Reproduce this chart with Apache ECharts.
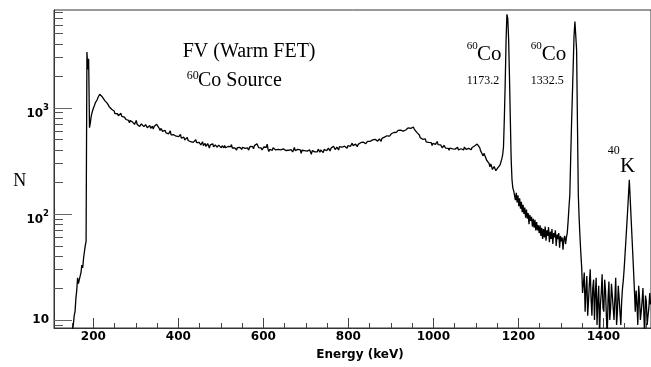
<!DOCTYPE html>
<html><head><meta charset="utf-8">
<script src="https://cdn.jsdelivr.net/npm/echarts@6/dist/echarts.min.js"></script>
<style>html,body{margin:0;padding:0;background:#fff}#c{width:651px;height:367px}</style>
</head><body><div id="c"></div>
<script>
// Histogram: bin centres start at 149 keV, 2 keV wide
const binStart = 149;
const binWidth = 2;
const counts = [
  // 149 - 247 keV
  7, 8, 9, 11, 12, 16, 19, 25, 22, 24, 24, 28, 33, 31, 38, 44, 50, 55, 3350, 2300, 2900, 650, 720, 830, 900,
  960, 1010, 1060, 1120, 1150, 1190, 1250, 1290, 1340, 1330, 1290, 1270, 1220, 1235, 1170, 1150, 1130, 1100, 1060, 1030, 1045, 1010, 970, 960, 945,
  // 249 - 347
  932, 880, 867, 905, 879, 840, 826, 870, 887, 830, 813, 840, 815, 790, 776, 805, 801, 760, 724, 760, 780, 735, 730, 745, 698,
  715, 760, 700, 693, 720, 667, 680, 704, 675, 712, 665, 641, 695, 677, 650, 652, 675, 680, 640, 648, 672, 630, 665, 680, 690,
  // 349 - 447
  700, 720, 686, 640, 611, 640, 627, 600, 575, 590, 613, 580, 594, 595, 568, 560, 606, 555, 542, 575, 558, 545, 569, 540, 530,
  555, 535, 520, 560, 518, 515, 535, 529, 498, 481, 515, 526, 492, 505, 485, 479, 500, 498, 472, 463, 488, 500, 470, 465, 478,
  // 449 - 547
  473, 455, 446, 462, 479, 440, 448, 462, 432, 445, 460, 440, 418, 448, 451, 430, 458, 428, 429, 448, 437, 425, 414, 445, 460,
  428, 419, 440, 434, 420, 441, 420, 409, 436, 432, 425, 414, 430, 450, 418, 408, 428, 420, 410, 399, 422, 432, 410, 423, 430,
  // 549 - 647
  405, 425, 435, 408, 415, 412, 428, 420, 399, 410, 434, 418, 424, 430, 411, 440, 458, 430, 458, 440, 421, 410, 426, 418, 400,
  415, 427, 420, 410, 425, 454, 410, 387, 405, 419, 412, 398, 420, 426, 405, 401, 400, 388, 405, 419, 410, 402, 398, 413, 410,
  // 649 - 747
  421, 402, 396, 410, 383, 398, 413, 392, 404, 410, 384, 400, 423, 395, 387, 410, 406, 390, 394, 402, 373, 398, 412, 385, 395,
  402, 406, 390, 377, 398, 401, 385, 365, 395, 412, 380, 384, 398, 396, 385, 408, 395, 382, 400, 404, 390, 378, 405, 412, 395,
  // 749 - 847
  394, 408, 417, 400, 392, 415, 415, 405, 434, 418, 404, 420, 427, 412, 400, 430, 436, 418, 425, 430, 419, 435, 448, 428, 416,
  440, 444, 430, 434, 448, 464, 440, 433, 450, 455, 445, 430, 452, 470, 455, 469, 468, 456, 475, 488, 466, 459, 475, 482, 472,
  // 849 - 947
  495, 482, 466, 490, 499, 478, 487, 505, 516, 500, 485, 500, 509, 492, 482, 515, 526, 508, 530, 540, 514, 545, 562, 548, 541,
  560, 569, 562, 550, 585, 600, 582, 586, 605, 612, 602, 588, 615, 634, 615, 603, 622, 626, 618, 599, 625, 647, 630, 626, 640,
  // 949 - 1047
  622, 645, 659, 630, 636, 615, 587, 600, 587, 555, 523, 540, 530, 505, 488, 500, 509, 478, 462, 480, 472, 462, 487, 470, 441,
  462, 469, 455, 452, 465, 481, 450, 438, 458, 448, 430, 419, 428, 443, 425, 416, 418, 428, 415, 397, 418, 433, 405, 410, 420,
  // 1049 - 1147
  424, 408, 402, 415, 425, 400, 392, 405, 411, 418, 395, 400, 427, 410, 405, 418, 404, 415, 427, 410, 402, 422, 434, 425, 436,
  445, 429, 455, 473, 445, 421, 395, 412, 380, 352, 372, 364, 340, 322, 310, 329, 300, 278, 295, 281, 262, 252, 280, 273, 255,
  // 1149 - 1247
  262, 270, 278, 265, 290, 300, 330, 360, 430, 800, 1700, 4200, 7600, 7000, 4500, 2000, 800, 330, 210, 175,
  165, 172, 135, 158, 128, 150, 118, 140, 112, 130, 104, 122, 100, 115, 92, 110, 90, 102, 80, 98, 86, 94, 76, 90, 74, 88, 70, 84, 70, 78,
  // 1249 - 1347
  66, 78, 62, 74, 58, 72, 60, 76, 56, 70, 62, 75, 54, 68, 58, 72, 52, 66, 60, 70, 50, 64, 58, 66, 48, 62, 55, 60, 46, 58, 62, 52, 60, 66,
  85, 115, 150, 330, 690, 1300, 2500, 4800, 6500, 6400, 3500, 700, 150, 90, 60, 42,
  // 1349 - 1447
  31, 18, 22, 28, 12, 19, 26, 11, 15, 22, 30, 16, 11, 20, 24, 10, 18, 25, 9, 15, 21, 7, 14, 18, 27,
  13, 12, 24, 19, 11, 7, 16, 23, 10, 13, 22, 17, 13, 10, 16, 25, 9, 12, 21, 16, 12, 9, 15, 20, 24,
  // 1449 - 1511
  31, 42, 57, 78, 107, 150, 210, 140, 95, 64, 43, 29, 19, 12, 19, 14, 9, 21, 16, 10, 12, 15, 20, 12, 7,
  17, 15, 9, 11, 13, 18, 14
];
const xMajorTicks = [200, 400, 600, 800, 1000, 1200, 1400];
const xMinorTicks = [150, 200, 250, 300, 350, 400, 450, 500, 550, 600, 650, 700, 750, 800, 850, 900, 950, 1000, 1050, 1100, 1150, 1200, 1250, 1300, 1350, 1400, 1450, 1500];
const yMajorTicks = [10, 100, 1000];
const yMinorTicks = [9, 20, 30, 40, 50, 60, 70, 80, 90, 200, 300, 400, 500, 600, 700, 800, 900, 2000, 3000, 4000, 5000, 6000, 7000, 8000];
const xRange = [107.5, 1512];
const yRange = [8.41, 8350];

const data = counts.map((c, i) => [binStart + i * binWidth, c]);

const SERIF = '"Liberation Serif", "Times New Roman", serif';
const SANS = '"DejaVu Sans", sans-serif';
function t(text, x, y, size, opts) {
  opts = opts || {};
  return {
    type: 'text', x: x, y: y, silent: true,
    style: {
      text: text, fill: '#000',
      font: (opts.bold ? 'bold ' : '') + size + 'px ' + (opts.family || SERIF),
      align: opts.align || 'left', verticalAlign: 'middle'
    }
  };
}

const chart = echarts.init(document.getElementById('c'), null, {renderer: 'canvas'});
chart.setOption({
  animation: false,
  backgroundColor: '#fff',
  grid: {left: 54, right: 0, top: 10, bottom: 39, show: true, borderColor: '#333', borderWidth: 1},
  xAxis: [{
    type: 'value', min: xRange[0], max: xRange[1],
    axisLine: {show: true, lineStyle: {color: '#333', width: 1}},
    splitLine: {show: false},
    axisTick: {show: true, inside: true, length: 10, customValues: xMajorTicks, lineStyle: {color: '#444'}},
    axisLabel: {customValues: xMajorTicks, margin: 3, color: '#000', fontFamily: SANS, fontWeight: 'bold', fontSize: 12,
      formatter: function (v) { return String(v); }}
  }, {
    type: 'value', min: xRange[0], max: xRange[1], position: 'bottom',
    axisLine: {show: false}, splitLine: {show: false},
    axisTick: {show: true, inside: true, length: 5, customValues: xMinorTicks, lineStyle: {color: '#444'}},
    axisLabel: {show: false}
  }],
  yAxis: [{
    type: 'log', logBase: 10, min: yRange[0], max: yRange[1],
    axisLine: {show: true, lineStyle: {color: '#333', width: 1}},
    splitLine: {show: false},
    axisTick: {show: true, inside: true, length: 18, customValues: yMajorTicks, lineStyle: {color: '#666'}},
    axisLabel: {
      customValues: yMajorTicks, margin: 5,
      formatter: function (v) {
        const e = Math.round(Math.log10(v));
        return e === 1 ? '{a|10}' : '{b|10}{s|' + e + '}';
      },
      rich: {
        a: {fontFamily: SANS, fontWeight: 'bold', fontSize: 12, color: '#000'},
        b: {fontFamily: SANS, fontWeight: 'bold', fontSize: 12, color: '#000', padding: [12, 0, 0, 0]},
        s: {fontFamily: SANS, fontWeight: 'bold', fontSize: 8.5, color: '#000'}
      }
    }
  }, {
    type: 'log', logBase: 10, min: yRange[0], max: yRange[1], position: 'left',
    axisLine: {show: false}, splitLine: {show: false},
    axisTick: {show: true, inside: true, length: 9, customValues: yMinorTicks, lineStyle: {color: '#555'}},
    axisLabel: {show: false}
  }],
  series: [{
    type: 'line', xAxisIndex: 0, yAxisIndex: 0, data: data,
    showSymbol: false, symbol: 'none', clip: true,
    lineStyle: {color: '#000', width: 1.3}
  }],
  graphic: [
    t('FV (Warm FET)', 182.7, 51.9, 20),
    t('60', 186.7, 76.3, 12),
    t('Co Source', 198, 80.9, 20),
    t('60', 466.7, 45.9, 11),
    t('Co', 477, 54.3, 21),
    t('1173.2', 466.7, 81.3, 12),
    t('60', 530.7, 45.9, 11),
    t('Co', 541.7, 54.3, 21),
    t('1332.5', 530.7, 81.3, 12),
    t('40', 607.7, 151.3, 12),
    t('K', 620, 166.3, 21),
    t('N', 13.3, 181.2, 18),
    t('Energy (keV)', 360, 354.6, 12, {bold: true, family: SANS, align: 'center'})
  ]
});
</script>
</body></html>
